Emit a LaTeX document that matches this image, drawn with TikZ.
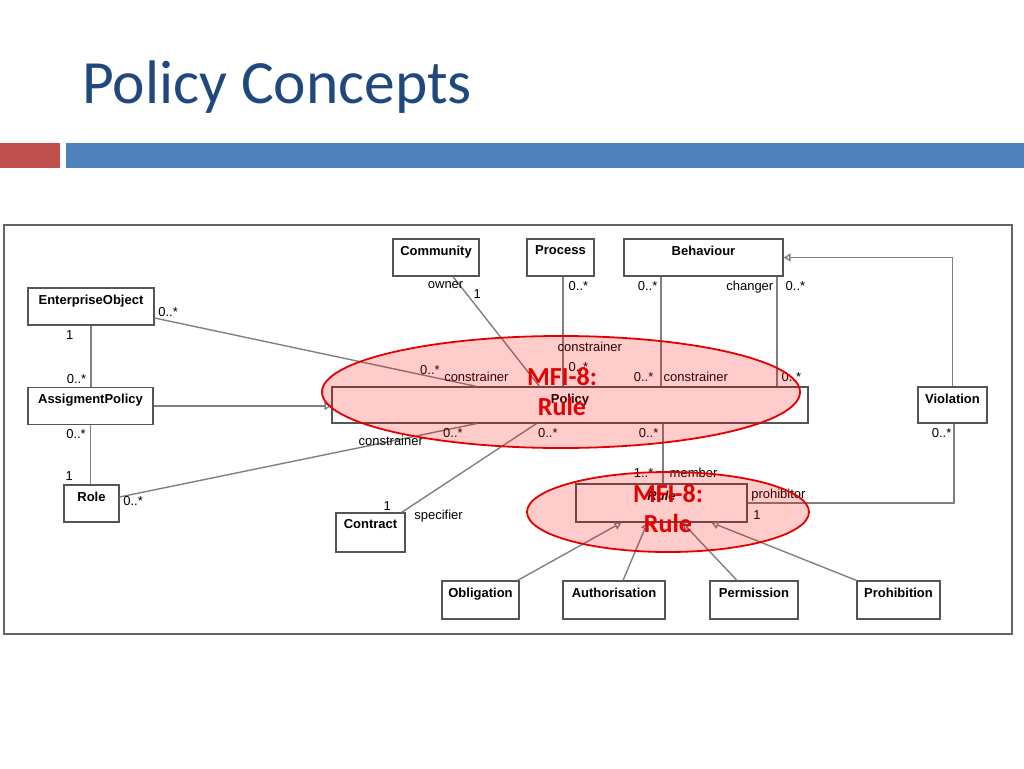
\documentclass[tikz,border=0pt]{standalone}
\usepackage{fontspec}
\setmainfont{Liberation Sans}
\newfontfamily\slidefont{Carlito}
\usepackage{tikz}
\usetikzlibrary{arrows.meta,calc,positioning,shapes.geometric}
\definecolor{titleblue}{RGB}{31,73,125}
\definecolor{barred}{RGB}{192,80,77}
\definecolor{barblue}{RGB}{79,129,189}
\definecolor{linegray}{RGB}{128,128,128}
\definecolor{boxgray}{RGB}{85,85,85}
\definecolor{framegray}{RGB}{100,100,100}
\definecolor{mfired}{RGB}{228,0,0}
\tikzset{
cls/.style={draw=boxgray, line width=1.2pt, minimum height=37, inner sep=0pt,
  label={[clsname]north:#1}},
clsname/.style={anchor=north, inner sep=0pt, yshift=-7, font=\fontsize{13}{15}\selectfont\bfseries},
lbl/.style={inner sep=1pt, font=\fontsize{13}{15}\selectfont},
assoc/.style={draw=linegray, line width=1.4pt},
gen/.style={assoc, -{Triangle[open, length=7pt, width=8pt]}},
hl/.style={ellipse, draw=mfired, line width=1.8pt, fill=red, fill opacity=0.2, draw opacity=1, inner sep=0pt},
hltext/.style={text=mfired, align=center, inner sep=0pt, font=\slidefont\fontsize{26}{30}\selectfont\bfseries}
}
\begin{document}
\begin{tikzpicture}[x=1pt, y=-1pt]
\useasboundingbox (0,0) rectangle (1024,768);
% slide header
\node[anchor=base west, inner sep=0pt, text=titleblue, font=\slidefont\fontsize{61.5}{72}\selectfont] (title) at (82,103) {Policy Concepts};
\fill[barred] (0,143) rectangle (60,168);
\fill[barblue] (66,143) rectangle (1024,168);
\draw[framegray, line width=1.2pt] (4,225) rectangle (1012,634);

% classes
\node[cls={EnterpriseObject}, minimum width=126] (eo) at (91,306.5) {};
\node[cls={AssigmentPolicy}, minimum width=125] (ap) at (90.5,406) {};
\node[cls={Role}, minimum width=55] (role) at (91.5,503.5) {};
\node[cls={Community}, minimum width=86] (community) at (436,257.5) {};
\node[cls={Process}, minimum width=67] (process) at (560.5,257.5) {};
\node[cls={Behaviour}, minimum width=159] (behaviour) at (703.5,257.5) {};
\node[cls={Policy}, minimum width=476, minimum height=36] (policy) at (570,405) {};
\node[cls={Violation}, minimum width=69, minimum height=36] (violation) at (952.5,405) {};
\node[cls={Contract}, minimum width=69, minimum height=39] (contract) at (370.5,532.5) {};
\node[cls={\itshape Rule}, minimum width=171, minimum height=38] (rule) at (661.5,503) {};
\node[cls={Obligation}, minimum width=77, minimum height=38] (obligation) at (480.5,600) {};
\node[cls={Authorisation}, minimum width=102, minimum height=38] (authorisation) at (614,600) {};
\node[cls={Permission}, minimum width=88, minimum height=38] (permission) at (754,600) {};
\node[cls={Prohibition}, minimum width=83, minimum height=38] (prohibition) at (898.5,600) {};

% associations
\draw[assoc] ([yshift=-11.5]eo.east) -- ([xshift=145]policy.north west)
  node[lbl, at start, anchor=south west, xshift=2] (eo-m) {0..*}
  node[lbl, at end, anchor=south, yshift=3] (eo-r) {constrainer}
  node[lbl, at end, anchor=south east, xshift=-35, yshift=10] (eo-p) {0..*};
\draw[assoc] (eo.south) -- (eo.south |- ap.north)
  node[lbl, at start, anchor=north east, xshift=-16, yshift=-3] (eoap-a) {1}
  node[lbl, at end, anchor=south east, xshift=-3, yshift=2] (eoap-b) {0..*};
\draw[gen] (ap.east) -- (ap.east -| policy.west);
\draw[assoc] (ap.south) -- (ap.south |- role.north)
  node[lbl, at start, anchor=north east, xshift=-3, yshift=-3] (aprole-a) {0..*}
  node[lbl, at end, anchor=south east, xshift=-16, yshift=2] (aprole-b) {1};
\draw[assoc] ([yshift=6.5]role.east) -- ([xshift=145]policy.south west)
  node[lbl, at start, anchor=west, xshift=2, yshift=-4] (role-m) {0..*}
  node[lbl, pos=0.76] (role-r) {constrainer}
  node[lbl, at end, anchor=north east, xshift=-12, yshift=-3] (role-p) {0..*};
\draw[assoc] ([xshift=-4]contract.north east) -- ([xshift=205]policy.south west)
  node[lbl, at start, anchor=south east, xshift=-9] (con-m) {1}
  node[lbl, at start, anchor=west, xshift=11, yshift=-4] (con-r) {specifier}
  node[lbl, at end, anchor=north west, yshift=-3] (con-p) {0..*};
\draw[assoc] ([xshift=17]community.south) -- ([xshift=208]policy.north west)
  node[lbl, at start, anchor=north east, xshift=12, yshift=-3] (com-r) {owner}
  node[lbl, at start, anchor=north west, xshift=19, yshift=-11] (com-m) {1};
\draw[assoc] ([xshift=2.5]process.south) -- ([xshift=2.5]process.south |- policy.north)
  node[lbl, at start, anchor=north west, xshift=4, yshift=-3] (pro-m) {0..*}
  node[lbl, pos=0.64, anchor=west, xshift=-7] (pro-r) {constrainer}
  node[lbl, at end, anchor=south west, xshift=4, yshift=13] (pro-p) {0..*};
\draw[assoc] ([xshift=-42.5]behaviour.south) -- ([xshift=-42.5]behaviour.south |- policy.north)
  node[lbl, at start, anchor=north east, xshift=-2, yshift=-3] (beh-m) {0..*}
  node[lbl, at end, anchor=south east, xshift=-6, yshift=3] (beh-p) {0..*}
  node[lbl, at end, anchor=south west, xshift=1, yshift=3] (beh-r) {constrainer};
\draw[assoc] ([xshift=73.5]behaviour.south) -- ([xshift=73.5]behaviour.south |- policy.north)
  node[lbl, at start, anchor=north east, xshift=-2, yshift=-3] (chg-r) {changer}
  node[lbl, at start, anchor=north west, xshift=7, yshift=-3] (chg-m) {0..*}
  node[lbl, at end, anchor=south west, xshift=3, yshift=3] (chg-p) {0..*};
\draw[gen] (violation.north) |- (behaviour.east);
\draw[assoc] ([xshift=1.5]violation.south) |- (rule.east)
  node[lbl, at start, anchor=north east, xshift=-1, yshift=-3] (vio-m) {0..*}
  node[lbl, at end, anchor=south west, xshift=2] (vio-r) {prohibitor}
  node[lbl, at end, anchor=north west, xshift=4, yshift=-6] (vio-p) {1};
\draw[assoc] ([xshift=1.5]rule.north |- policy.south) -- ([xshift=1.5]rule.north)
  node[lbl, at start, anchor=north east, xshift=-3, yshift=-3] (mem-p) {0..*}
  node[lbl, at end, anchor=south east, xshift=-8, yshift=4] (mem-m) {1..*}
  node[lbl, at end, anchor=south west, xshift=5, yshift=4] (mem-r) {member};

% kinds of rule
\draw[gen] ([xshift=-2]obligation.north east) -- ([xshift=46]rule.south west);
\draw[gen] ([xshift=9]authorisation.north) -- ([xshift=72]rule.south west);
\draw[gen] ([xshift=-17]permission.north) -- ([xshift=107]rule.south west);
\draw[gen] (prohibition.north west) -- ([xshift=136]rule.south west);

% highlights
\node[hl, minimum width=478, minimum height=112] (hl1) at (561,392) {};
\node[hltext] (mfi1) at (562,392) {MFI-8:\\Rule};
\node[hl, minimum width=282, minimum height=80] (hl2) at (668,512) {};
\node[hltext] (mfi2) at (668,509) {MFI-8:\\Rule};
\end{tikzpicture}
\end{document}
